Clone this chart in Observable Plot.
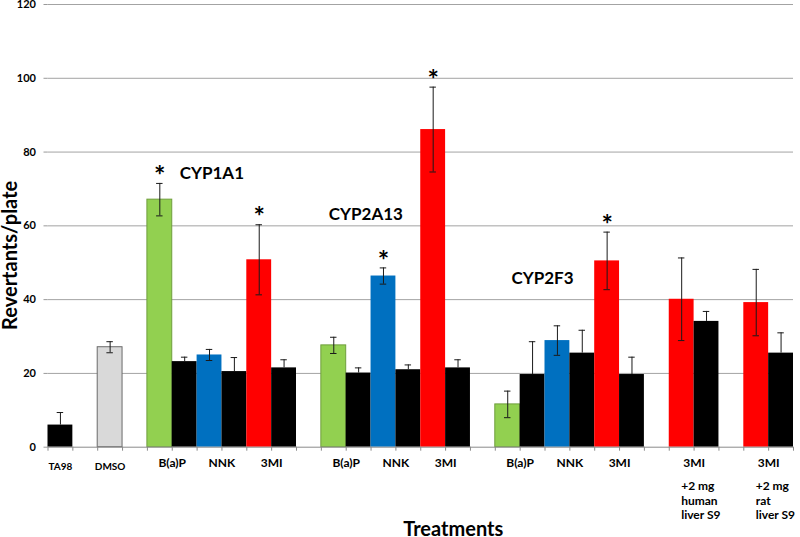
<!DOCTYPE html>
<html><head><meta charset="utf-8">
<script src="https://cdn.jsdelivr.net/npm/d3@7"></script>
<script src="https://cdn.jsdelivr.net/npm/@observablehq/plot@0.6"></script>
<style>body{margin:0;background:#fff;} svg{display:block}</style>
</head><body><div id="chart"></div>
<script>
// ---- data ----
const treatments = ["TA98","DMSO","B(a)P","NNK","3MI","B(a)P","NNK","3MI","B(a)P","NNK","3MI","3MI","3MI"];
const subLabels  = ["","","","","","","","","","","","+2 mg\nhuman\nliver S9","+2 mg\nrat\nliver S9"];
const groups     = ["TA98","DMSO","CYP1A1","CYP1A1","CYP1A1","CYP2A13","CYP2A13","CYP2A13","CYP2F3","CYP2F3","CYP2F3","human S9","rat S9"];
const treatedMean = [6.0, 27.1, 67.1, 25.0, 50.8, 27.6, 46.4, 86.1, 11.6, 28.9, 50.5, 40.1, 39.2];
const treatedErr  = [3.4, 1.5, 4.4, 1.5, 9.5, 2.2, 2.2, 11.5, 3.6, 4.0, 7.8, 11.2, 9.0];
const controlMean = [null, null, 23.2, 20.5, 21.5, 20.1, 21.0, 21.5, 19.7, 25.5, 19.7, 34.1, 25.5];
const controlErr  = [null, null, 1.2, 3.8, 2.2, 1.4, 1.3, 2.2, 8.9, 6.2, 4.7, 2.7, 5.5];
const significant = [false,false,true,false,true,false,true,true,false,false,true,false,false];
const enzymeLabels = ["CYP1A1","CYP2A13","CYP2F3"];
const enzymeLabelX = [5.3, 11.3, 18.65];   // bar-slot units
const enzymeLabelY = [74.3, 63.1, 45.7];   // revertants/plate units
const yTicks = [0,20,40,60,80,100,120];

// ---- layout of bar slots (one slot per bar, a blank slot between groups) ----
let slot = 0, prev = null;
const rows = treatments.map((t, i) => {
  if (prev !== null && groups[i] !== prev) slot += 1;
  prev = groups[i];
  const s = slot;
  slot += controlMean[i] == null ? 1 : 2;
  return {i, t, s, paired: controlMean[i] != null};
});
const nSlots = slot;

const bars = [];
rows.forEach(r => {
  bars.push({x1: r.s, x2: r.s + 1, y: treatedMean[r.i], e: treatedErr[r.i], type: r.t});
  if (r.paired) bars.push({x1: r.s + 1, x2: r.s + 2, y: controlMean[r.i], e: controlErr[r.i], type: "control"});
});
const dark = b => b.type === "control" || b.type === "TA98";
const caps = bars.flatMap(b => {
  const c = (b.x1 + b.x2) / 2;
  return dark(b) ? [{c, y: b.y + b.e}] : [{c, y: b.y + b.e}, {c, y: b.y - b.e}];
});
const labelX = r => r.paired ? r.s + 1 : r.s + 0.5;
const small = rows.filter(r => !r.paired);
const big = rows.filter(r => r.paired);
const withSub = rows.filter(r => subLabels[r.i]);
const stars = rows.filter(r => significant[r.i]);
const enz = enzymeLabels.map((l, k) => ({l, x: enzymeLabelX[k], y: enzymeLabelY[k]}));

const chart = Plot.plot({
  width: 800, height: 537,
  marginLeft: 47.5, marginRight: 7, marginTop: 4, marginBottom: 90.3,
  style: {fontFamily: "Lato, 'Open Sans', sans-serif", background: "#fff", overflow: "visible"},
  x: {domain: [0, nSlots], axis: null},
  y: {domain: [0, 120], axis: null},
  color: {domain: ["TA98","DMSO","B(a)P","NNK","3MI","control"],
          range: ["#000000","#d9d9d9","#92d050","#0070c0","#ff0000","#000000"]},
  marks: [
    Plot.ruleY(yTicks.filter(v => v > 0), {stroke: "#a3a3a3", strokeWidth: 1}),
    Plot.axisY({ticks: yTicks, tickSize: 4, tickPadding: 8, fontSize: 11, fontWeight: "bold", stroke: "#999", fill: "#000", label: null}),
    Plot.rectY(bars, {x1: "x1", x2: "x2", y: "y", fill: "type",
      stroke: d => d.type === "DMSO" ? "#6a6a6a" : d.type === "B(a)P" ? "#6f9e3c" : "none", strokeWidth: 1}),
    Plot.ruleY([0], {stroke: "#8a8a8a"}),
    Plot.axisX({ticks: d3.range(0, nSlots + 1), tickSize: 4, tickFormat: () => "", stroke: "#8a8a8a", label: null}),
    Plot.ruleX(bars, {x: d => (d.x1 + d.x2) / 2, y1: d => dark(d) ? d.y : d.y - d.e, y2: d => d.y + d.e, stroke: "#1a1a1a", strokeWidth: 1}),
    Plot.ruleY(caps, {x1: d => d.c - 0.13, x2: d => d.c + 0.13, y: "y", stroke: "#1a1a1a", strokeWidth: 1}),
    Plot.text(stars, {x: r => r.s + 0.5, y: r => treatedMean[r.i] + treatedErr[r.i], text: () => "*",
      dy: -7, fontSize: 27, fontWeight: "bold", fill: "#000"}),
    Plot.text(enz, {x: "x", y: "y", text: "l", textAnchor: "start", fontSize: 17, fontWeight: "bold", fill: "#000"}),
    Plot.text(small, {x: labelX, y: 0, text: r => treatments[r.i], dy: 20, fontSize: 10, fontWeight: "bold", fill: "#000"}),
    Plot.text(big, {x: labelX, y: 0, text: r => treatments[r.i], dy: 16, fontSize: 12, fontWeight: "bold", fill: "#000"}),
    Plot.text(withSub, {x: r => r.s + 0.48, y: 0, text: r => subLabels[r.i], textAnchor: "start", lineAnchor: "top",
      lineHeight: 1.2, dy: 33, fontSize: 12, fontWeight: "bold", fill: "#000"}),
    Plot.text(["Treatments"], {frameAnchor: "bottom", lineAnchor: "bottom", dx: 32.5, dy: 88.5,
      fontSize: 20, fontWeight: "bold", fill: "#000"}),
    Plot.text(["Revertants/plate"], {frameAnchor: "left", textAnchor: "middle", y: 52, dx: -37.5, rotate: -90,
      fontSize: 20, fontWeight: "bold", fill: "#000"})
  ]
});
document.getElementById("chart").appendChild(chart);
</script>
</body></html>
